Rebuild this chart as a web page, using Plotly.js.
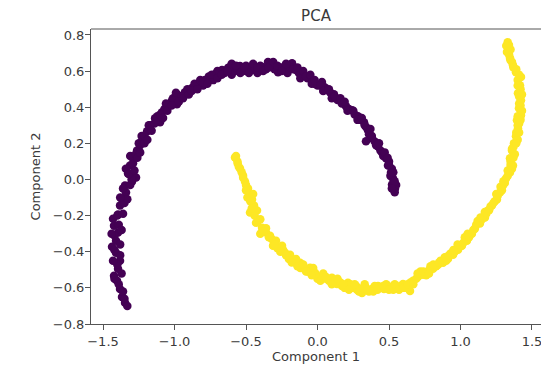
<!DOCTYPE html>
<html>
<head>
<meta charset="utf-8">
<script src="https://cdn.plot.ly/plotly-3.0.1.min.js"></script>
<style>html,body{margin:0;padding:0;background:#fff}#chart{width:541px;height:366px}</style>
</head>
<body>
<div id="chart"></div>
<script>
// Class 0 (purple) points
const class0X = [
-1.346,-1.367,-1.381,-1.402,-1.423,-1.395,-1.381,-1.409,-1.437,-1.409,-1.395,-1.423,-1.430,-1.395,-1.381,-1.367,-1.339,-1.346,-1.297,-1.269,
-1.325,-1.311,-1.290,-1.262,-1.241,-1.220,-1.192,-1.171,-1.136,-1.101,-1.087,-1.045,-1.017,-0.976,-0.983,-0.927,-0.878,-0.836,-0.787,-0.752,
-0.717,-0.668,-0.626,-0.577,-0.542,-0.486,-0.437,-0.388,-0.346,-0.311,-0.276,-0.227,-0.178,-0.150,-0.101,-0.052,-0.017,0.031,0.073,0.115,
0.157,0.199,0.241,0.283,0.325,0.353,0.381,0.339,0.423,0.451,0.479,0.493,0.514,0.528,0.521,0.542,
-1.33,-1.36,-1.39,-1.37,-1.40,-1.38,-1.42,-1.38,-1.42,-1.39,-1.40,-1.36,-1.35,-1.33,-1.36,-1.31,-1.29,-1.34,-1.29,-1.31,
-1.27,-1.25,-1.23,-1.21,-1.18,-1.14,-1.12,-1.07,-1.06,-1.01,-0.99,-0.95,-0.91,-0.86,-0.82,-0.80,-0.76,-0.73,-0.70,-0.65,
-0.62,-0.60,-0.56,-0.52,-0.50,-0.46,-0.42,-0.40,-0.36,-0.33,-0.30,-0.25,-0.21,-0.19,-0.13,-0.12,-0.07,-0.04,0.00,0.05,
0.09,0.10,0.14,0.17,0.22,0.26,0.30,0.34,0.36,0.40,0.44,0.46,0.50,0.52,0.51,0.55,0.54,
-1.44,-1.43,-1.42,-1.35,-1.37,-1.38,-1.30,-1.32,
-1.28,-1.26,-1.24,-1.21,-1.19,-1.16,-1.13,-1.10,-1.08,-1.05,-1.02,-0.97,-0.94,-0.90,-0.88,-0.84,-0.80,-0.77,-0.74,-0.70,
-0.67,-0.63,-0.60,-0.57,-0.54,-0.51,-0.48,-0.45,-0.42,-0.38,-0.34,-0.31,-0.28,-0.25,-0.22,-0.17,-0.14,-0.10,-0.08,-0.05,
-0.02,0.02,0.04,0.08,0.12,0.16,0.19,0.21,0.25,0.28,0.31,0.33,0.37,0.38,0.41,0.43,0.47,0.49,0.50,0.53,0.54,0.52
];
const class0Y = [
-0.683,-0.650,-0.606,-0.561,-0.533,-0.494,-0.450,-0.406,-0.372,-0.339,-0.294,-0.256,-0.217,-0.194,-0.144,-0.106,-0.072,-0.033,-0.011,0.011,
0.033,0.078,0.117,0.161,0.189,0.228,0.267,0.300,0.339,0.317,0.372,0.406,0.439,0.467,0.417,0.483,0.506,0.528,0.550,0.561,
0.583,0.606,0.617,0.600,0.628,0.617,0.606,0.622,0.650,0.633,0.594,0.617,0.644,0.606,0.578,0.561,0.528,0.539,0.494,0.472,
0.439,0.406,0.383,0.350,0.317,0.272,0.228,0.211,0.183,0.150,0.117,0.078,0.039,0.006,-0.028,-0.050,
-0.70,-0.62,-0.58,-0.52,-0.47,-0.42,-0.39,-0.36,-0.31,-0.25,-0.20,-0.19,-0.13,-0.11,-0.05,-0.03,0.02,0.06,0.09,0.13,
0.14,0.20,0.24,0.24,0.30,0.31,0.35,0.39,0.42,0.45,0.48,0.46,0.50,0.53,0.55,0.52,0.57,0.55,0.60,0.59,
0.62,0.58,0.61,0.60,0.63,0.62,0.59,0.63,0.61,0.63,0.61,0.62,0.59,0.62,0.59,0.56,0.56,0.53,0.52,0.51,
0.48,0.45,0.44,0.42,0.39,0.36,0.33,0.29,0.25,0.21,0.16,0.13,0.10,0.06,0.02,-0.03,-0.07,
-0.30,-0.45,-0.55,-0.66,-0.28,-0.10,0.00,0.03,
0.05,0.12,0.15,0.20,0.22,0.27,0.33,0.36,0.34,0.38,0.41,0.43,0.45,0.47,0.49,0.50,0.54,0.53,0.58,0.56,
0.58,0.60,0.64,0.63,0.59,0.62,0.59,0.64,0.62,0.60,0.62,0.65,0.63,0.60,0.64,0.61,0.62,0.60,0.57,0.58,
0.55,0.52,0.49,0.50,0.46,0.45,0.43,0.38,0.38,0.33,0.34,0.30,0.28,0.24,0.19,0.20,0.15,0.12,0.08,0.04,-0.01,-0.05
];
// Class 1 (yellow) points
const class1X = [
-0.577,-0.558,-0.542,-0.521,-0.507,-0.486,-0.472,-0.458,-0.472,-0.444,-0.423,-0.416,-0.388,-0.360,-0.332,-0.311,-0.290,-0.248,-0.227,-0.192,
-0.171,-0.122,-0.094,-0.052,-0.017,0.017,0.059,0.101,0.136,0.171,0.213,0.241,0.276,0.311,0.339,0.381,0.423,0.465,0.507,0.556,
0.598,0.647,0.668,0.703,0.738,0.773,0.808,0.843,0.878,0.913,0.948,0.983,1.010,1.045,1.073,1.101,1.136,1.171,1.192,1.220,
1.255,1.276,1.297,1.318,1.346,1.367,1.346,1.360,1.374,1.388,1.402,1.395,1.423,1.409,1.423,1.402,1.416,1.423,1.388,1.367,
1.346,1.325,1.339,
-0.56,-0.53,-0.50,-0.49,-0.45,-0.44,-0.40,-0.40,-0.36,-0.32,-0.28,-0.24,-0.20,-0.15,-0.12,-0.07,-0.03,0.00,0.04,0.08,
0.12,0.16,0.19,0.23,0.27,0.30,0.33,0.36,0.40,0.44,0.48,0.53,0.58,0.62,0.65,0.69,0.72,0.76,0.79,0.83,
0.86,0.90,0.93,0.96,1.00,1.03,1.06,1.09,1.12,1.15,1.18,1.21,1.24,1.26,1.29,1.31,1.33,1.36,1.35,1.38,
1.37,1.40,1.39,1.41,1.40,1.42,1.41,1.42,1.40,1.39,1.36,1.34,1.35,1.33,
-0.57,-0.55,-0.52,-0.50,-0.47,-0.46,-0.43,-0.38,-0.34,-0.30,-0.26,-0.22,-0.18,-0.14,-0.10,-0.08,-0.04,0.02,0.06,0.10,
0.14,0.18,0.22,0.26,0.29,0.32,0.35,0.39,0.42,0.46,0.50,0.54,0.57,0.60,0.63,0.67,0.70,0.74,0.78,0.81,
0.85,0.89,0.92,0.95,0.98,1.02,1.05,1.08,1.11,1.14,1.17,1.20,1.23,1.25,1.28,1.30,1.33,1.35,1.37,1.36,
1.39,1.41,1.40,1.42,1.43,1.41,1.43,1.40,1.41,1.37,1.35,1.33,1.32
];
const class1Y = [
0.122,0.089,0.061,0.022,-0.011,-0.050,-0.083,-0.111,-0.183,-0.144,-0.172,-0.228,-0.267,-0.294,-0.311,-0.367,-0.339,-0.367,-0.406,-0.417,
-0.456,-0.461,-0.494,-0.489,-0.517,-0.539,-0.550,-0.544,-0.578,-0.589,-0.572,-0.600,-0.611,-0.628,-0.600,-0.606,-0.589,-0.606,-0.594,-0.600,
-0.578,-0.617,-0.561,-0.539,-0.528,-0.506,-0.494,-0.472,-0.461,-0.439,-0.417,-0.389,-0.367,-0.339,-0.300,-0.272,-0.244,-0.211,-0.172,-0.144,
-0.111,-0.072,-0.033,0.006,0.039,0.078,0.117,0.161,0.200,0.239,0.283,0.328,0.356,0.394,0.439,0.478,0.522,0.567,0.594,0.633,
0.672,0.706,0.744,
0.10,0.04,-0.03,-0.10,-0.08,-0.20,-0.22,-0.30,-0.27,-0.33,-0.38,-0.39,-0.44,-0.44,-0.49,-0.51,-0.49,-0.55,-0.52,-0.56,
-0.56,-0.57,-0.60,-0.58,-0.59,-0.61,-0.58,-0.62,-0.59,-0.60,-0.58,-0.61,-0.59,-0.60,-0.57,-0.55,-0.51,-0.53,-0.48,-0.48,
-0.45,-0.45,-0.41,-0.40,-0.37,-0.32,-0.32,-0.28,-0.23,-0.22,-0.19,-0.15,-0.12,-0.09,-0.06,-0.02,0.02,0.06,0.10,0.14,
0.18,0.22,0.26,0.31,0.35,0.41,0.46,0.50,0.55,0.61,0.65,0.69,0.72,0.76,
0.13,0.07,0.01,-0.06,-0.12,-0.16,-0.24,-0.29,-0.32,-0.36,-0.40,-0.42,-0.46,-0.48,-0.47,-0.51,-0.53,-0.56,-0.54,-0.58,
-0.55,-0.58,-0.61,-0.58,-0.62,-0.60,-0.61,-0.62,-0.61,-0.59,-0.61,-0.58,-0.61,-0.60,-0.58,-0.58,-0.52,-0.51,-0.52,-0.47,
-0.46,-0.43,-0.42,-0.39,-0.36,-0.35,-0.30,-0.30,-0.25,-0.21,-0.18,-0.17,-0.13,-0.08,-0.04,-0.01,0.05,0.08,0.12,0.17,
0.20,0.26,0.30,0.33,0.38,0.42,0.47,0.52,0.58,0.62,0.66,0.71,0.74
];
const xTicks = [-1.5, -1.0, -0.5, 0.0, 0.5, 1.0, 1.5];
const yTicks = [-0.8, -0.6, -0.4, -0.2, 0.0, 0.2, 0.4, 0.6, 0.8];
const titleText = 'PCA';
const xLabel = 'Component 1';
const yLabel = 'Component 2';

const font = {family: 'DejaVu Sans, sans-serif', size: 13, color: '#3a3a3a'};
const axisColor = '#555';

const traces = [
  {x: class0X, y: class0Y, type: 'scatter', mode: 'markers',
   marker: {color: '#440154', size: 8.5, line: {width: 0}}, hoverinfo: 'skip'},
  {x: class1X, y: class1Y, type: 'scatter', mode: 'markers',
   marker: {color: '#fde725', size: 8.5, line: {width: 0}}, hoverinfo: 'skip'}
];

const layout = {
  width: 541, height: 366,
  margin: {l: 91, r: 0, t: 29, b: 42, pad: 0},
  paper_bgcolor: '#fff', plot_bgcolor: '#fff',
  showlegend: false,
  font: font,
  title: {text: titleText, font: {family: 'DejaVu Sans, sans-serif', size: 15, color: '#3a3a3a'},
          x: 0.5, xref: 'paper', y: 1 - 16/366, yref: 'container', yanchor: 'middle'},
  xaxis: {
    range: [-1.584, 1.563], tickvals: xTicks, ticktext: xTicks.map(v => v.toFixed(1).replace('-', '\u2212')),
    showgrid: false, zeroline: false, showline: true, linecolor: axisColor, linewidth: 1,
    ticks: 'outside', ticklen: 5, tickcolor: axisColor, tickwidth: 1,
    ticklabeloverflow: 'allow',
    tickfont: font,
    title: {text: xLabel, font: font, standoff: 4}
  },
  yaxis: {
    range: [-0.8, 0.833], tickvals: yTicks, ticktext: yTicks.map(v => v.toFixed(1).replace('-', '\u2212')),
    showgrid: false, zeroline: false, showline: true, linecolor: axisColor, linewidth: 1,
    ticks: 'outside', ticklen: 5, tickcolor: axisColor, tickwidth: 1,
    ticklabelstandoff: -2,
    tickfont: font,
    title: {text: yLabel, font: font, standoff: 9}
  },
  shapes: [{type: 'line', xref: 'paper', yref: 'paper', x0: 0, x1: 1, y0: 1, y1: 1,
            line: {color: axisColor, width: 1}}]
};

Plotly.newPlot('chart', traces, layout, {displayModeBar: false, staticPlot: true});
</script>
</body>
</html>
